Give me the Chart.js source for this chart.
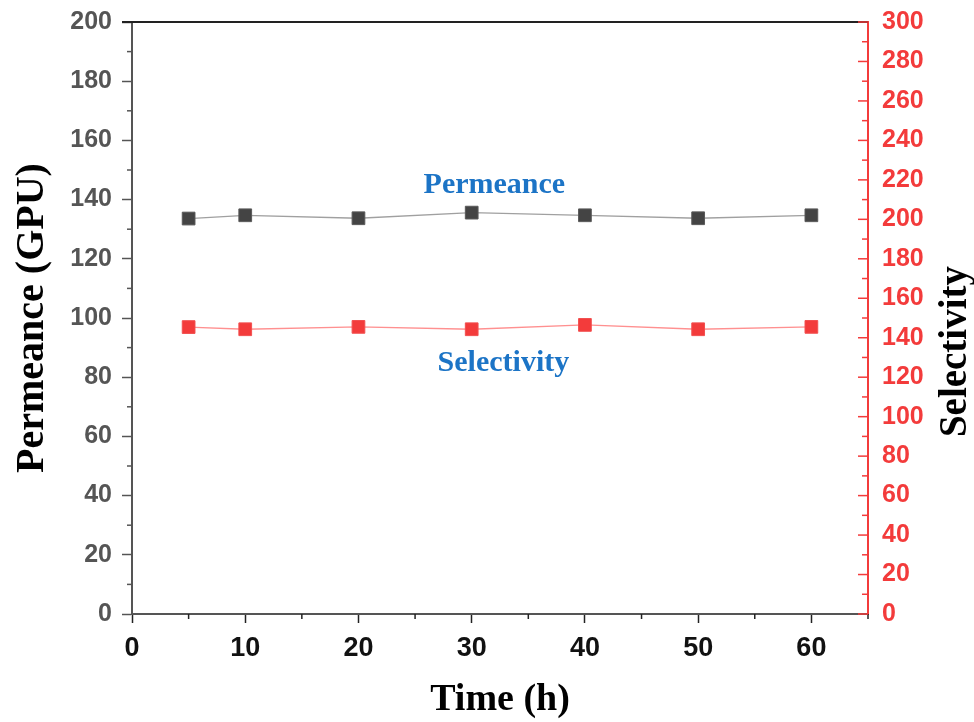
<!DOCTYPE html>
<html>
<head>
<meta charset="utf-8">
<script src="https://cdn.jsdelivr.net/npm/chart.js@4"></script>
<style>
  html, body { margin: 0; padding: 0; background: #fff; }
  #wrap { width: 974px; height: 722px; }
</style>
</head>
<body>
<div id="wrap"><canvas id="permChart" width="974" height="722"></canvas></div>
<script>
// values
const timeHours = [5, 10, 20, 30, 40, 50, 60];
const permeance = [133.6, 134.7, 133.7, 135.6, 134.7, 133.7, 134.7];
const selectivity = [145.4, 144.3, 145.5, 144.3, 146.5, 144.3, 145.5];

const timeTicks = [0, 10, 20, 30, 40, 50, 60];
const permTicks = [0, 20, 40, 60, 80, 100, 120, 140, 160, 180, 200];
const selTicks = [0, 20, 40, 60, 80, 100, 120, 140, 160, 180, 200, 220, 240, 260, 280, 300];

const RED = '#f33b3b';
const GREY = '#555555';
const BLUE = '#1c74c6';

function setTicks(values) {
  return (scale) => { scale.ticks = values.map((v) => ({ value: v })); };
}

// fixed axis sizes so the plot box lands where the figure has it
function fixWidth(w) {
  return (s) => { s.width = w; s.paddingTop = 0; s.paddingBottom = 0; };
}

// minor ticks, right axis inward ticks, top frame, right title and in-plot labels
const extras = {
  id: 'extras',
  afterDraw(chart) {
    const { ctx, chartArea: a, scales } = chart;
    const x = scales.x, y = scales.y, y2 = scales.y2;
    ctx.save();
    ctx.lineWidth = 1.5;

    // left minor ticks
    ctx.strokeStyle = GREY;
    for (let i = 0; i < permTicks.length - 1; i++) {
      const py = y.getPixelForValue((permTicks[i] + permTicks[i + 1]) / 2);
      ctx.beginPath(); ctx.moveTo(a.left - 5, py); ctx.lineTo(a.left, py); ctx.stroke();
    }
    // bottom minor ticks (5, 15, ... 65)
    ctx.strokeStyle = '#222';
    for (let i = 0; i < timeTicks.length; i++) {
      const px = x.getPixelForValue(timeTicks[i] + 5);
      ctx.beginPath(); ctx.moveTo(px, a.bottom); ctx.lineTo(px, a.bottom + 5); ctx.stroke();
    }
    // top frame
    ctx.strokeStyle = '#222';
    ctx.lineWidth = 2;
    ctx.beginPath(); ctx.moveTo(a.left - 10, a.top); ctx.lineTo(a.right, a.top); ctx.stroke();

    // right axis ticks pointing inward
    ctx.strokeStyle = RED;
    ctx.lineWidth = 1.5;
    selTicks.forEach((v, i) => {
      const py = y2.getPixelForValue(v);
      ctx.beginPath(); ctx.moveTo(a.right - 10, py); ctx.lineTo(a.right, py); ctx.stroke();
      if (i < selTicks.length - 1) {
        const pm = y2.getPixelForValue(v + (selTicks[i + 1] - v) / 2);
        ctx.beginPath(); ctx.moveTo(a.right - 6, pm); ctx.lineTo(a.right, pm); ctx.stroke();
      }
    });

    // right axis title
    ctx.save();
    ctx.translate(956, y2.getPixelForValue(133));
    ctx.rotate(-Math.PI / 2);
    ctx.fillStyle = '#000';
    ctx.font = 'bold 39px "Liberation Serif"';
    ctx.textAlign = 'center';
    ctx.textBaseline = 'middle';
    ctx.fillText('Selectivity', 0, 0);
    ctx.restore();

    // series labels inside the plot
    ctx.fillStyle = BLUE;
    ctx.font = 'bold 30px "Liberation Serif"';
    ctx.textAlign = 'center';
    ctx.textBaseline = 'alphabetic';
    ctx.fillText('Permeance', x.getPixelForValue(32), y.getPixelForValue(142.1));
    ctx.fillText('Selectivity', x.getPixelForValue(32.8), y.getPixelForValue(82.2));
    ctx.restore();
  }
};

new Chart(document.getElementById('permChart'), {
  type: 'line',
  data: {
    labels: timeHours,
    datasets: [
      {
        label: 'Permeance',
        data: timeHours.map((t, i) => ({ x: t, y: permeance[i] })),
        yAxisID: 'y',
        borderColor: '#a0a0a0',
        borderWidth: 1.3,
        backgroundColor: '#444444',
        pointBorderColor: '#5a5a5a',
        pointBorderWidth: 1,
        pointStyle: 'rect',
        pointRadius: 9,
        tension: 0,
        fill: false,
      },
      {
        label: 'Selectivity',
        data: timeHours.map((t, i) => ({ x: t, y: selectivity[i] })),
        yAxisID: 'y2',
        borderColor: '#ff9090',
        borderWidth: 1.3,
        backgroundColor: RED,
        pointBorderColor: '#f25050',
        pointBorderWidth: 1,
        pointStyle: 'rect',
        pointRadius: 9,
        tension: 0,
        fill: false,
      },
    ],
  },
  options: {
    responsive: false,
    animation: false,
    layout: { padding: { top: 22, left: 0, right: 0, bottom: 0 } },
    plugins: {
      legend: { display: false },
      tooltip: { enabled: false },
    },
    scales: {
      x: {
        type: 'linear',
        position: 'bottom',
        min: 0,
        max: 65,
        afterBuildTicks: setTicks(timeTicks),
        afterFit: (s) => { s.height = 108; s.paddingLeft = 0; s.paddingRight = 0; },
        border: { display: true, color: GREY, width: 2 },
        grid: { drawOnChartArea: false, drawTicks: true, tickLength: 9, color: '#222', tickWidth: 1.5 },
        ticks: {
          color: '#111',
          padding: 9,
          maxRotation: 0,
          font: { family: '"Liberation Sans"', size: 27, weight: 'bold' },
        },
        title: {
          display: true,
          text: 'Time (h)',
          color: '#000',
          padding: { top: 0, bottom: 3 },
          font: { family: '"Liberation Serif"', size: 38, weight: 'bold', lineHeight: 1 },
        },
      },
      y: {
        position: 'left',
        min: 0,
        max: 200,
        afterBuildTicks: setTicks(permTicks),
        afterFit: fixWidth(132),
        border: { display: true, color: GREY, width: 2 },
        grid: { drawOnChartArea: false, drawTicks: true, tickLength: 10, color: GREY, tickWidth: 1.5 },
        ticks: {
          color: GREY,
          padding: 10,
          font: { family: '"Liberation Sans"', size: 25, weight: 'bold' },
        },
        title: {
          display: true,
          text: 'Permeance (GPU)',
          color: '#000',
          padding: { top: 13, bottom: 0 },
          font: { family: '"Liberation Serif"', size: 40, weight: 'bold', lineHeight: 1 },
        },
      },
      y2: {
        position: 'right',
        min: 0,
        max: 300,
        afterBuildTicks: setTicks(selTicks),
        afterFit: fixWidth(106),
        border: { display: true, color: RED, width: 2 },
        grid: { drawOnChartArea: false, drawTicks: false },
        ticks: {
          color: RED,
          padding: 14,
          font: { family: '"Liberation Sans"', size: 25, weight: 'bold' },
        },
      },
    },
  },
  plugins: [extras],
});
</script>
</body>
</html>
